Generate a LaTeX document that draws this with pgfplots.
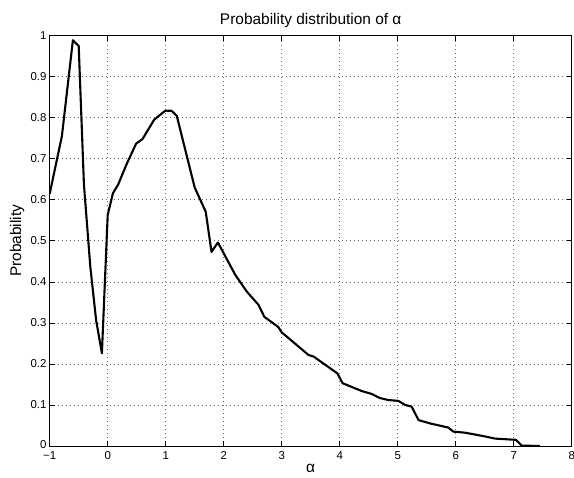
\documentclass[border=0pt]{standalone}
\usepackage{pgfplots}
\pgfplotsset{compat=1.18}
\usepackage{fontspec}
\setmainfont{Liberation Sans}

\begin{document}
\begin{tikzpicture}
  % page = 574 x 478 px, axis box 522 x 410.3 px
  \path[use as bounding box] (-49.7bp,-32bp) rectangle (524.3bp,446bp);
  \begin{axis}[%
    scale only axis,
    width=522bp, height=410.3bp,
    at={(0,0)}, anchor=south west,
    /pgf/number format/assume math mode=true,
    every tick label/.append style={font=\fontsize{11.5}{12}\selectfont, inner sep=0pt},
    xticklabel style={yshift=-5.5bp},
    yticklabel style={xshift=-3bp},
    % x-axis
    xmin=-1, xmax=8,
    xtick={-1,0,1,2,3,4,5,6,7,8},
    xticklabels={−1,0,1,2,3,4,5,6,7,8},
    % y-axis
    ymin=0, ymax=1,
    ytick={0,0.1,0.2,0.3,0.4,0.5,0.6,0.7,0.8,0.9,1},
    yticklabels={\raisebox{2.5bp}{0},0.1,0.2,0.3,0.4,0.5,0.6,0.7,0.8,0.9,1},
    grid=major,
    grid style={black!60, line width=0.7bp, dash pattern=on 0.8bp off 3.2bp},
    tick align=inside,
    tick pos=both,
    major tick length=5bp,
    tick style={black, line width=0.7bp},
    axis line style={line width=0.8bp},
    % labels
    title={Probability distribution of α},
    xlabel={α},
    ylabel={Probability},
    every axis title/.style={at={(axis description cs:0.5,1.0285)}, anchor=base,
      font=\fontsize{15.5}{17}\selectfont},
    every axis x label/.style={at={(axis description cs:0.5,-0.0536)}, anchor=center,
      font=\fontsize{15.5}{17}\selectfont},
    every axis y label/.style={at={(axis description cs:-0.0626,0.5)}, rotate=90, anchor=center,
      font=\fontsize{15.5}{17}\selectfont},
    ]

    \addplot [black, line width=2.1bp, line join=round, mark=none] coordinates {
      (-1, 0.615)
      (-0.79, 0.755)
      (-0.6, 0.989)
      (-0.5, 0.975)
      (-0.41, 0.638)
      (-0.3, 0.437)
      (-0.2, 0.307)
      (-0.1, 0.226)
      (0, 0.563)
      (0.09, 0.616)
      (0.18, 0.637)
      (0.32, 0.685)
      (0.49, 0.737)
      (0.6, 0.748)
      (0.8, 0.795)
      (0.99, 0.817)
      (1.1, 0.817)
      (1.19, 0.805)
      (1.5, 0.630)
      (1.69, 0.571)
      (1.79, 0.473)
      (1.9, 0.496)
      (2.2, 0.417)
      (2.4, 0.376)
      (2.6, 0.344)
      (2.7, 0.315)
      (2.94, 0.29)
      (3.0, 0.277)
      (3.26, 0.246)
      (3.46, 0.222)
      (3.55, 0.218)
      (3.75, 0.198)
      (3.96, 0.177)
      (4.05, 0.153)
      (4.38, 0.134)
      (4.55, 0.127)
      (4.69, 0.117)
      (4.84, 0.112)
      (5.01, 0.110)
      (5.13, 0.100)
      (5.24, 0.096)
      (5.36, 0.063)
      (5.56, 0.055)
      (5.87, 0.045)
      (5.96, 0.035)
      (6.16, 0.0325)
      (6.48, 0.024)
      (6.68, 0.018)
      (7.04, 0.015)
      (7.14, 0.001)
      (7.45, 0.0)
    };
  \end{axis}
\end{tikzpicture}
\end{document}
